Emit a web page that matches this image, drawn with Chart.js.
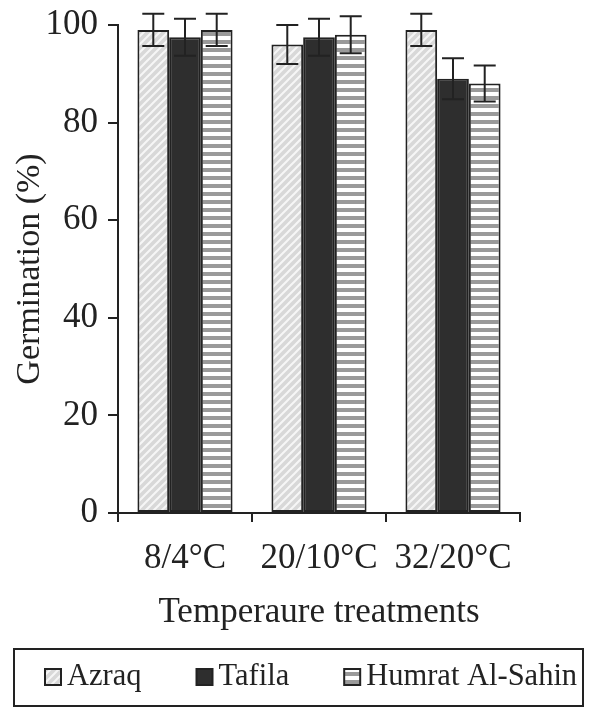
<!DOCTYPE html>
<html>
<head>
<meta charset="utf-8">
<script src="https://cdn.jsdelivr.net/npm/chart.js@4"></script>
<style>
  html, body { margin: 0; padding: 0; background: #fff; }
  #wrap { width: 595px; height: 710px; }
</style>
</head>
<body>
<div id="wrap"><canvas id="chart" width="595" height="710"></canvas></div>
<script>
// ---------------- Data ----------------
const categories = ["8/4°C", "20/10°C", "32/20°C"];
const seriesNames = ["Azraq", "Tafila", "Humrat Al-Sahin"];
const azraq = [99, 96, 99];
const tafila = [97.5, 97.5, 89];
const humrat = [99, 98, 88];
const azraqErr = [3.3, 4, 3.3];
const tafilaErr = [3.8, 3.8, 4.2];
const humratErr = [3.3, 3.8, 3.7];
const yTicks = [0, 20, 40, 60, 80, 100];

// ---------------- Fill patterns ----------------
function hatchPattern() {
  const c = document.createElement("canvas");
  c.width = 8; c.height = 8;
  const g = c.getContext("2d");
  g.fillStyle = "#d8d8d8";
  g.fillRect(0, 0, 8, 8);
  g.strokeStyle = "#f6f6f6";
  g.lineWidth = 2;
  g.beginPath();
  g.moveTo(-2, 10); g.lineTo(10, -2);
  g.moveTo(-2, 2); g.lineTo(2, -2);
  g.moveTo(6, 10); g.lineTo(10, 6);
  g.stroke();
  return g.createPattern(c, "repeat");
}

function stripePattern() {
  const c = document.createElement("canvas");
  c.width = 8; c.height = 8;
  const g = c.getContext("2d");
  g.fillStyle = "#ffffff";
  g.fillRect(0, 0, 8, 8);
  g.fillStyle = "#9a9a9a";
  g.fillRect(0, 0, 8, 4);
  return g.createPattern(c, "repeat");
}

const serif = "'Liberation Serif', 'DejaVu Serif', serif";
const ink = "#222";

// error bars drawn through the y scale
const errorBars = {
  id: "errorBars",
  afterDatasetsDraw(chart) {
    const ctx = chart.ctx;
    const y = chart.scales.y;
    chart.data.datasets.forEach((ds, i) => {
      const meta = chart.getDatasetMeta(i);
      meta.data.forEach((bar, j) => {
        const v = ds.data[j], e = ds.errors[j];
        const top = y.getPixelForValue(v + e);
        const bot = y.getPixelForValue(v - e);
        ctx.save();
        ctx.strokeStyle = ink;
        ctx.lineWidth = 2;
        ctx.beginPath();
        ctx.moveTo(bar.x, top); ctx.lineTo(bar.x, bot);
        ctx.moveTo(bar.x - 11, top); ctx.lineTo(bar.x + 11, top);
        ctx.moveTo(bar.x - 11, bot); ctx.lineTo(bar.x + 11, bot);
        ctx.stroke();
        ctx.restore();
      });
    });
  }
};

// framed legend under the axis title
const boxLegend = {
  id: "boxLegend",
  afterDraw(chart) {
    const ctx = chart.ctx;
    ctx.save();
    ctx.strokeStyle = ink;
    ctx.lineWidth = 2;
    ctx.strokeRect(14, 649, 569, 57);
    ctx.font = "30.5px " + serif;
    ctx.textBaseline = "middle";
    ctx.fillStyle = ink;
    let x = 45;
    const cy = 677;
    chart.data.datasets.forEach(ds => {
      ctx.fillStyle = ds.backgroundColor;
      ctx.fillRect(x, cy - 8, 16, 16);
      ctx.strokeRect(x, cy - 8, 16, 16);
      ctx.fillStyle = ink;
      ctx.fillText(ds.label, x + 22, cy);
      x += 22 + ctx.measureText(ds.label).width + 55;
    });
    ctx.restore();
  }
};

new Chart(document.getElementById("chart"), {
  type: "bar",
  data: {
    labels: categories,
    datasets: [
      { label: seriesNames[0], data: azraq, errors: azraqErr, backgroundColor: hatchPattern() },
      { label: seriesNames[1], data: tafila, errors: tafilaErr, backgroundColor: "#2e2e2e" },
      { label: seriesNames[2], data: humrat, errors: humratErr, backgroundColor: stripePattern() }
    ].map(d => Object.assign(d, {
      borderColor: ink, borderWidth: 2, borderSkipped: false,
      categoryPercentage: 0.71, barPercentage: 1
    }))
  },
  options: {
    responsive: false,
    animation: false,
    layout: { padding: { top: 25, left: 0, right: 0, bottom: 76 } },
    plugins: {
      tooltip: { enabled: false },
      legend: { display: false }
    },
    scales: {
      x: {
        grid: { display: true, drawOnChartArea: false, drawTicks: true, tickLength: 9, color: ink, lineWidth: 2, offset: true },
        border: { display: true, color: ink, width: 2 },
        ticks: { font: { family: serif, size: 35 }, color: ink, padding: 16 },
        title: { display: true, text: "Temperaure treatments", font: { family: serif, size: 35 }, color: ink, padding: { top: 4, bottom: 0 } },
        afterFit: s => { s.height = 121; }
      },
      y: {
        min: 0, max: 100,
        afterBuildTicks: s => { s.ticks = yTicks.map(v => ({ value: v })); },
        grid: { display: true, drawOnChartArea: false, drawTicks: true, tickLength: 10, color: ink, lineWidth: 2 },
        border: { display: true, color: ink, width: 2 },
        ticks: { font: { family: serif, size: 35 }, color: ink, padding: 10 },
        title: { display: true, text: "Germination (%)", font: { family: serif, size: 34 }, color: ink, padding: { top: 10, bottom: 0 } },
        afterFit: s => { s.width = 118; s.paddingTop = 0; s.paddingBottom = 0; }
      },
      y2: {
        position: "right",
        display: true,
        grid: { display: false },
        border: { display: false },
        ticks: { display: false },
        afterFit: s => { s.width = 75; s.paddingTop = 0; s.paddingBottom = 0; }
      }
    }
  },
  plugins: [errorBars, boxLegend]
});
</script>
</body>
</html>
